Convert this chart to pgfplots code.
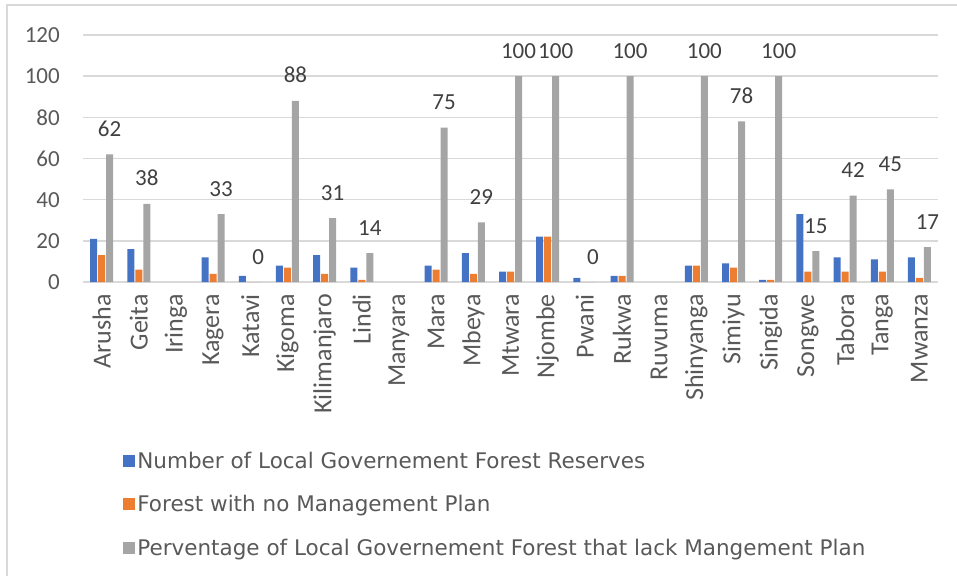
\documentclass[border=0pt]{standalone}
\usepackage{fontspec}
\setmainfont{Carlito}
\newfontfamily\legendfont{DejaVu Sans}
\usepackage{pgfplots}
\pgfplotsset{compat=1.18}
\usepackage{pgfplotstable}

\definecolor{cblue}{HTML}{4472C4}
\definecolor{corange}{HTML}{ED7D31}
\definecolor{cgray}{HTML}{A5A5A5}
\definecolor{gridgray}{HTML}{D9D9D9}
\definecolor{ticktext}{HTML}{595959}
\definecolor{labeltext}{HTML}{404040}

% reserves per region: number, without plan, percentage without plan
\pgfplotstableread{
idx name        reserves noplan pct
0   Arusha      21   13   62
1   Geita       16   6    38
2   Iringa      nan  nan  nan
3   Kagera      12   4    33
4   Katavi      3    0    0
5   Kigoma      8    7    88
6   Kilimanjaro 13   4    31
7   Lindi       7    1    14
8   Manyara     nan  nan  nan
9   Mara        8    6    75
10  Mbeya       14   4    29
11  Mtwara      5    5    100
12  Njombe      22   22   100
13  Pwani       2    0    0
14  Rukwa       3    3    100
15  Ruvuma      nan  nan  nan
16  Shinyanga   8    8    100
17  Simiyu      9    7    78
18  Singida     1    1    100
19  Songwe      33   5    15
20  Tabora      12   5    42
21  Tanga       11   5    45
22  Mwanza      12   2    17
}\datatable

\begin{document}
\begin{tikzpicture}[x=1pt,y=1pt]
\useasboundingbox (0,0) rectangle (957,576);
\draw[gridgray, line width=1.5pt] (7,0) -- (7,571) -- (957,571);
\begin{axis}[
  at={(83pt,294pt)}, anchor=south west,
  scale only axis, width=855pt, height=247pt,
  xmin=-0.5, xmax=22.5, ymin=0, ymax=120,
  ybar=1pt, bar width=7pt,
  axis line style={draw=none},
  major tick length=0pt,
  ytick={0,20,...,120},
  ymajorgrids, grid style={gridgray, line width=1.5pt},
  xtick={0,...,22},
  xticklabels from table={\datatable}{name},
  xticklabel style={rotate=90, anchor=east, inner sep=0pt,
    font=\fontsize{26}{30}\selectfont},
  xticklabel shift=12pt,
  yticklabel style={anchor=east, inner sep=0pt,
    font=\fontsize{23}{27}\selectfont},
  yticklabel shift=23pt,
  tick label style={text=ticktext},
  /pgf/number format/assume math mode=true,
  unbounded coords=discard,
  clip=false,
  legend style={at={(0.047,-0.678)}, anchor=north west, draw=none, fill=none,
    font=\legendfont\fontsize{21.5}{25}\selectfont, text=ticktext,
    row sep=22pt, inner sep=0pt,
    /tikz/every even column/.append style={column sep=0pt}},
  legend cell align=left,
  legend image code/.code={\path[#1, draw=none] (0pt,-6pt) rectangle (12pt,6pt);},
]
\addplot[fill=cblue, draw=none] table[x=idx, y=reserves] {\datatable};
\addplot[fill=corange, draw=none] table[x=idx, y=noplan] {\datatable};
\addplot[fill=cgray, draw=none,
  nodes near coords,
  every node near coord/.append style={anchor=base, yshift=18pt,
    font=\fontsize{23}{27}\selectfont, text=labeltext}]
  table[x=idx, y=pct] {\datatable};
\legend{Number of Local Governement Forest Reserves,
  Forest with no Management Plan,
  Perventage of Local Governement Forest that lack Mangement Plan}
\end{axis}
\end{tikzpicture}
\end{document}
